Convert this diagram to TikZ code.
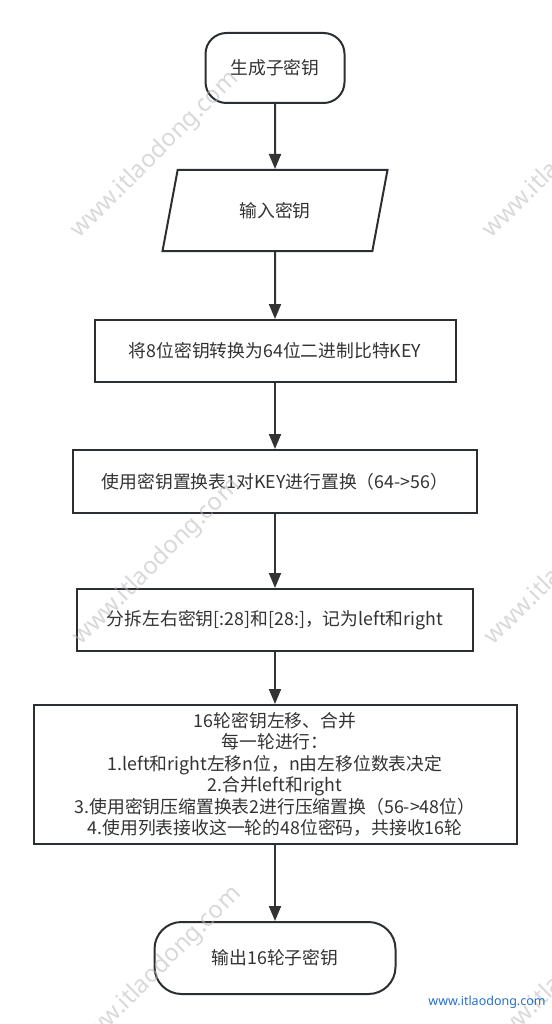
\documentclass[tikz,border=0pt]{standalone}
\usepackage{fontspec}
\newfontfamily\cjk{Noto Sans CJK SC}
\newfontfamily\wmfont{Noto Sans}
\usepackage{tikz}
\usetikzlibrary{arrows.meta,shapes.geometric}
\definecolor{inkline}{RGB}{43,47,51}
\definecolor{inktext}{RGB}{51,51,51}
\definecolor{siteblue}{RGB}{36,112,204}
\tikzset{
  box/.style={draw=inkline,line width=2pt,fill=white,inner sep=0pt,text=inktext,font=\cjk\fontsize{17.8}{21.5}\selectfont,align=center},
  term/.style={box,rounded corners=21pt},
  io/.style={box,trapezium,trapezium left angle=71.6,trapezium right angle=108.4,trapezium stretches=true},
  flow/.style={draw=inktext,line width=2pt,-{Triangle[length=15pt,width=12pt]}},
  wmark/.style={text=gray!55,opacity=0.55,font=\wmfont\fontsize{24}{24}\selectfont,rotate=45,inner sep=0pt},
}

\begin{document}
\begin{tikzpicture}[x=1pt,y=-1pt]
\useasboundingbox (0,0) rectangle (551,1024);
\node[term,minimum width=139,minimum height=70] (start) at (275,68) {生成子密钥};
\node[io,minimum width=226,minimum height=81] (input) at (275,210.5) {输入密钥};
\node[box,minimum width=361,minimum height=62] (bin) at (275,351) {将8位密钥转换为64位二进制比特KEY};
\node[box,minimum width=404,minimum height=63] (perm) at (275,481.5) {使用密钥置换表1对KEY进行置换（64->56）};
\node[box,minimum width=396,minimum height=62] (split) at (275,620) {分拆左右密钥[:28]和[28:]，记为left和right};
\node[box,minimum width=483,minimum height=139] (rounds) at (275,774.5) {16轮密钥左移、合并\\每一轮进行：\\1.left和right左移n位，n由左移位数表决定\\2.合并left和right\\3.使用密钥压缩置换表2进行压缩置换（56->48位）\\4.使用列表接收这一轮的48位密码，共接收16轮};
\node[term,rounded corners=27pt,minimum width=241,minimum height=72] (output) at (275,958) {输出16轮子密钥};

\draw[flow] (start) -- (input);
\draw[flow] (input) -- (bin);
\draw[flow] (bin) -- (perm);
\draw[flow] (perm) -- (split);
\draw[flow] (split) -- (rounds);
\draw[flow] (rounds) -- (output);

% watermarks
\foreach \wx/\wy [count=\i] in {155/155,567/155,157/562,569/562,158/970,570/970}
  \node[wmark] (wm\i) at (\wx,\wy) {www.itlaodong.com};
\node[text=siteblue,font=\wmfont\fontsize{12.5}{12.5}\selectfont,inner sep=0pt] (site) at (487,1002) {www.itlaodong.com};
\end{tikzpicture}
\end{document}
